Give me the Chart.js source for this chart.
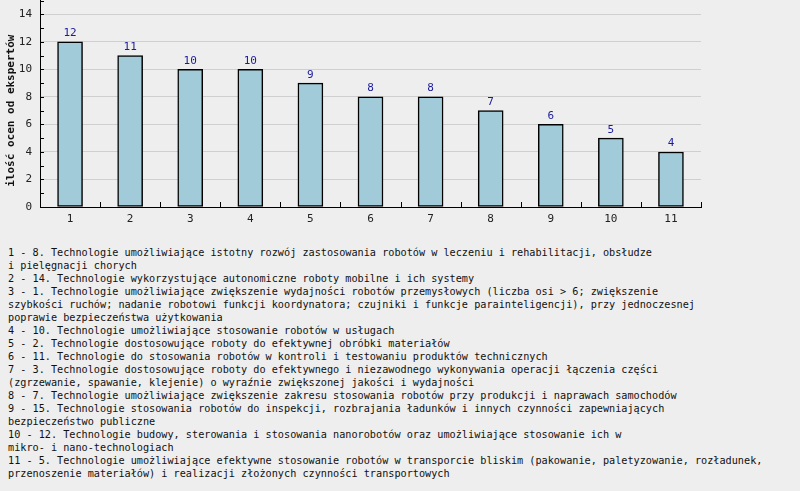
<!DOCTYPE html>
<html>
<head>
<meta charset="utf-8">
<script src="https://cdn.jsdelivr.net/npm/chart.js@4"></script>
<style>
html,body{margin:0;padding:0;background:#eeeeee;width:800px;height:491px;overflow:hidden}
#wrap{position:absolute;left:0;top:-14px;width:800px;height:246px}
#notes{position:absolute;left:8px;top:246px;margin:0;font-family:'DejaVu Sans Mono',monospace;font-size:10.2px;line-height:13px;color:#111;white-space:pre}
</style>
</head>
<body>
<div id="wrap"><canvas id="chart" width="800" height="246"></canvas></div>
<pre id="notes"></pre>
<script>
// --- data ---
const categories = ['1','2','3','4','5','6','7','8','9','10','11'];
const counts = [12, 11, 10, 10, 9, 8, 8, 7, 6, 5, 4];
const yTitle = 'ilość ocen od ekspertów';
const noteLines = [
'1 - 8. Technologie umożliwiające istotny rozwój zastosowania robotów w leczeniu i rehabilitacji, obsłudze',
'i pielęgnacji chorych',
'2 - 14. Technologie wykorzystujące autonomiczne roboty mobilne i ich systemy',
'3 - 1. Technologie umożliwiające zwiększenie wydajności robotów przemysłowych (liczba osi > 6; zwiększenie',
'szybkości ruchów; nadanie robotowi funkcji koordynatora; czujniki i funkcje parainteligencji), przy jednoczesnej',
'poprawie bezpieczeństwa użytkowania',
'4 - 10. Technologie umożliwiające stosowanie robotów w usługach',
'5 - 2. Technologie dostosowujące roboty do efektywnej obróbki materiałów',
'6 - 11. Technologie do stosowania robotów w kontroli i testowaniu produktów technicznych',
'7 - 3. Technologie dostosowujące roboty do efektywnego i niezawodnego wykonywania operacji łączenia części',
'(zgrzewanie, spawanie, klejenie) o wyraźnie zwiększonej jakości i wydajności',
'8 - 7. Technologie umożliwiające zwiększenie zakresu stosowania robotów przy produkcji i naprawach samochodów',
'9 - 15. Technologie stosowania robotów do inspekcji, rozbrajania ładunków i innych czynności zapewniających',
'bezpieczeństwo publiczne',
'10 - 12. Technologie budowy, sterowania i stosowania nanorobotów oraz umożliwiające stosowanie ich w',
'mikro- i nano-technologiach',
'11 - 5. Technologie umożliwiające efektywne stosowanie robotów w transporcie bliskim (pakowanie, paletyzowanie, rozładunek,',
'przenoszenie materiałów) i realizacji złożonych czynności transportowych'
];
document.getElementById('notes').textContent = noteLines.join('\n');

const MONO = "'DejaVu Sans Mono', monospace";

// inner tick marks, value labels, y title
const extras = {
  id: 'extras',
  afterDatasetsDraw(chart){
    const {ctx, chartArea, scales:{x, y}} = chart;
    ctx.save();
    ctx.strokeStyle = '#000';
    ctx.lineWidth = 1;
    ctx.beginPath();
    for (let v = 1; v <= 15; v++){
      const py = Math.round(y.getPixelForValue(v)) + 0.5;
      ctx.moveTo(chartArea.left, py);
      ctx.lineTo(chartArea.left + 4, py);
    }
    const half = (x.getPixelForValue(1) - x.getPixelForValue(0)) / 2;
    for (let i = 0; i < categories.length; i++){
      const px = Math.round(x.getPixelForValue(i) + half) + 0.5;
      ctx.moveTo(px, chartArea.bottom);
      ctx.lineTo(px, chartArea.bottom - 5);
    }
    ctx.stroke();
    // values
    ctx.fillStyle = '#1a1a9a';
    ctx.font = '11px ' + MONO;
    ctx.textAlign = 'center';
    ctx.textBaseline = 'bottom';
    chart.getDatasetMeta(0).data.forEach((bar, i) => {
      ctx.fillText(String(counts[i]), bar.x, bar.y - 3);
    });
    // y title, centred on the 0..14 range
    const cy = (y.getPixelForValue(0) + y.getPixelForValue(14)) / 2;
    ctx.translate(11, cy);
    ctx.rotate(-Math.PI / 2);
    ctx.fillStyle = '#111';
    ctx.font = 'bold 11px ' + MONO;
    ctx.textBaseline = 'middle';
    ctx.fillText(yTitle, 0, 0);
    ctx.restore();
  }
};

new Chart(document.getElementById('chart'), {
  type: 'bar',
  data: {
    labels: categories,
    datasets: [{
      data: counts,
      backgroundColor: '#a1cbd8',
      borderColor: '#000',
      borderWidth: 1.5,
      borderSkipped: false,
      barThickness: 25,
      categoryPercentage: 1
    }]
  },
  options: {
    responsive: false,
    animation: false,
    layout: { padding: { left: 0, right: 99, top: 0, bottom: 0 } },
    plugins: { legend: { display: false }, tooltip: { enabled: false } },
    scales: {
      x: {
        grid: { display: false, drawTicks: false },
        border: { color: '#000', width: 1 },
        ticks: { color: '#222', font: { family: MONO, size: 11 }, padding: 6 },
        afterFit(s){ s.height = 25; }
      },
      y: {
        min: 0, max: 15,
        grid: {
          drawTicks: false,
          color: c => (c.tick && c.tick.value % 2 === 0 && c.tick.value > 0) ? '#cfcfcf' : 'rgba(0,0,0,0)'
        },
        border: { color: '#000', width: 1 },
        ticks: {
          stepSize: 1, autoSkip: false, padding: 8,
          color: '#222', font: { family: MONO, size: 11 },
          callback: v => (v % 2 === 0 ? String(v) : '')
        },
        title: { display: false },
        afterFit(s){ s.width = 40; }
      }
    }
  },
  plugins: [extras]
});
</script>
</body>
</html>
